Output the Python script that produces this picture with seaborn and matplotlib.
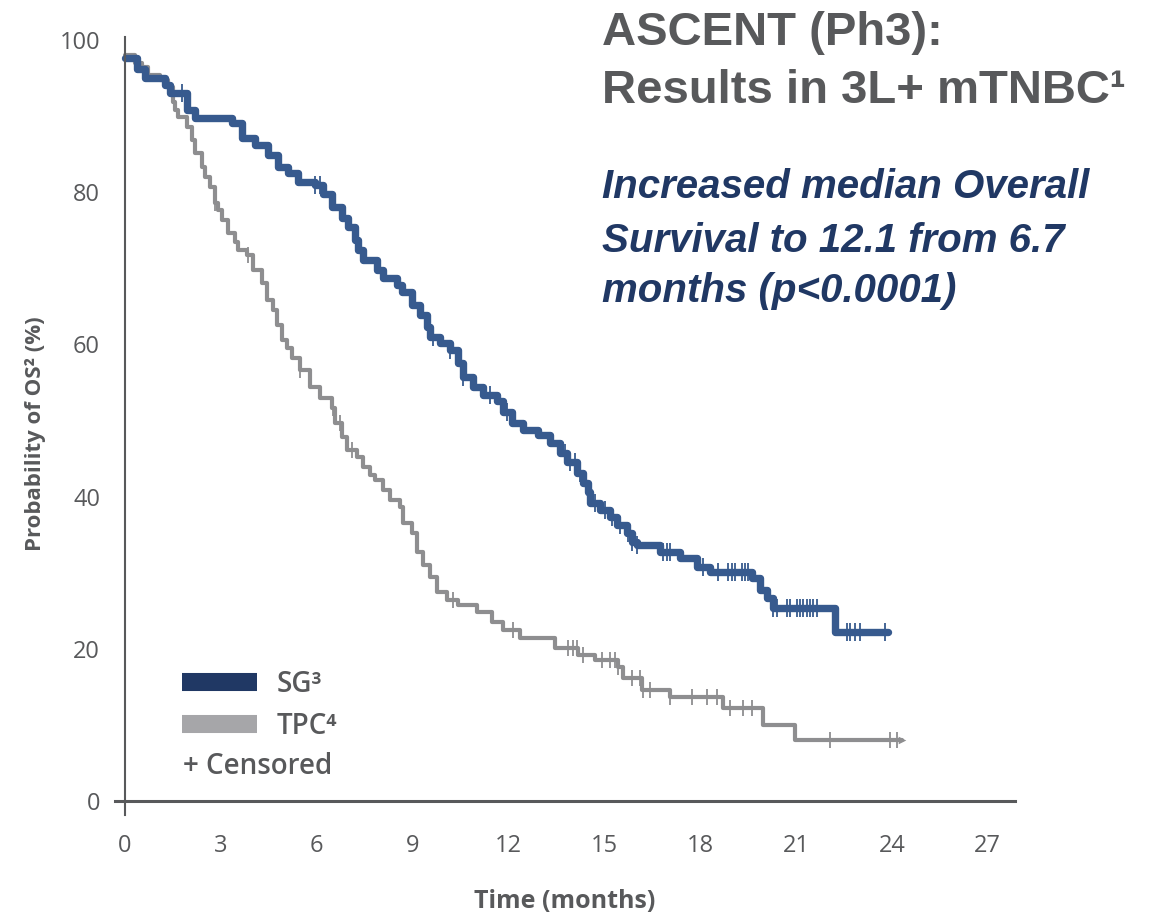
import matplotlib
matplotlib.use("Agg")
import matplotlib.pyplot as plt
import seaborn as sns
import numpy as np
from matplotlib.lines import Line2D

# SG arm: Kaplan-Meier steps (months, % surviving)
sg_time = [0, 0.38, 0.63, 1.25, 1.41, 1.94, 2.19, 3.35, 3.66, 4.07, 4.47, 4.79,
           5.10, 5.41, 5.94, 6.20, 6.48, 6.79, 6.98, 7.20, 7.29, 7.45, 7.88, 8.07,
           8.51, 8.67, 8.98, 9.23, 9.45, 9.54, 9.86, 10.17, 10.42, 10.58, 10.89,
           11.20, 11.64, 11.83, 12.11, 12.45, 12.92, 13.30, 13.61, 13.83, 14.14,
           14.33, 14.49, 14.55, 14.86, 15.18, 15.39, 15.71, 15.86, 16.02, 16.74,
           17.37, 17.90, 18.30, 19.62, 19.87, 20.09, 20.28, 22.22]
sg_surv = [97.6, 96.2, 95.0, 94.1, 93.0, 90.8, 89.8, 89.1, 87.1, 86.2, 84.9, 83.3,
           82.5, 81.3, 80.9, 79.8, 78.1, 76.6, 75.4, 73.7, 72.4, 71.1, 69.8, 68.7,
           67.8, 66.9, 65.2, 63.9, 62.3, 61.0, 60.2, 59.3, 57.6, 55.7, 54.4,
           53.4, 52.5, 51.1, 49.7, 48.8, 48.1, 47.0, 45.7, 44.5, 43.1,
           41.8, 40.6, 39.2, 38.2, 37.3, 36.3, 35.2, 34.0, 33.6, 32.7,
           31.9, 30.7, 30.1, 29.3, 27.7, 26.7, 25.4, 22.2]
sg_end = 23.87
sg_censor = [1.78, 5.94, 6.10, 9.64, 10.17, 10.58, 11.42, 11.95, 13.77, 13.92,
             14.08, 14.24, 14.71, 15.02, 15.24, 15.49, 15.74, 15.86, 16.02, 16.83,
             16.96, 17.05, 18.09, 18.55, 18.87, 18.99, 19.09, 19.31, 19.40, 19.49,
             20.28, 20.40, 20.71, 20.81, 21.03, 21.12, 21.21, 21.34, 21.43, 21.53,
             21.65, 22.59, 22.68, 22.84, 22.99, 23.78]

# TPC arm
tpc_time = [0, 0.31, 0.53, 0.72, 1.10, 1.35, 1.50, 1.56, 1.66, 1.94, 2.10, 2.19,
            2.41, 2.50, 2.66, 2.82, 2.91, 3.04, 3.22, 3.44, 3.54, 3.82, 4.01, 4.29,
            4.44, 4.63, 4.76, 4.91, 5.07, 5.23, 5.48, 5.79, 6.10, 6.48, 6.57, 6.79,
            6.95, 7.26, 7.45, 7.67, 7.82, 8.07, 8.29, 8.60, 8.70, 8.98, 9.14, 9.32,
            9.54, 9.76, 10.08, 10.42, 11.01, 11.48, 11.83, 12.36, 13.45, 14.17,
            14.71, 15.43, 15.58, 16.18, 17.05, 18.71, 19.96, 20.96]
tpc_surv = [98.0, 97.0, 96.5, 95.4, 94.7, 93.8, 91.9, 90.8, 89.9, 88.6, 86.9, 85.2,
            83.3, 82.0, 80.7, 78.6, 77.7, 76.3, 74.6, 73.5, 72.4, 71.7, 69.8, 68.1,
            65.8, 64.5, 62.5, 60.6, 59.5, 58.2, 56.6, 54.4, 52.9, 51.6, 49.7, 47.8,
            46.1, 45.2, 43.9, 42.8, 42.2, 40.9, 39.6, 38.6, 36.5, 35.2, 32.7, 31.0,
            29.4, 27.5, 26.4, 25.8, 24.8, 23.5, 22.5, 21.4, 20.1, 19.2,
            18.5, 17.6, 16.2, 14.6, 13.7, 12.2, 10.0, 8.0]
tpc_end = 24.31
tpc_censor = [2.82, 3.85, 5.48, 6.51, 6.73, 7.10, 10.26, 12.14, 13.86, 14.02, 14.14,
              14.33, 14.92, 15.18, 15.33, 15.43, 15.86, 16.11, 16.21, 16.43, 17.05,
              17.74, 18.21, 18.52, 18.93, 19.34, 19.62, 22.06, 23.94, 24.16]

x_ticks = [0, 3, 6, 9, 12, 15, 18, 21, 24, 27]
y_ticks = [0, 20, 40, 60, 80, 100]

SG_LINE = "#375a8e"
SG_DARK = "#203864"
TPC_LINE = "#8e8e90"
TPC_LEG = "#a6a6a9"
TEXT_GRAY = "#58595b"


def step_value(times, surv, t):
    idx = np.searchsorted(times, t, side="right") - 1
    return np.asarray(surv)[idx]


sns.set_style("white")
plt.rcParams["font.family"] = ["Open Sans", "DejaVu Sans"]

fig = plt.figure(figsize=(11.59, 9.16), dpi=100)
ax = fig.add_axes([0.0996, 0.1106, 0.7761, 0.849])

# curves
for times, surv, end, cens, col, lw, ms in [
        (tpc_time, tpc_surv, tpc_end, tpc_censor, TPC_LINE, 3.0, 120),
        (sg_time, sg_surv, sg_end, sg_censor, SG_LINE, 5.3, 180)]:
    xs = list(times) + [end]
    ys = list(surv) + [surv[-1]]
    sns.lineplot(x=xs, y=ys, drawstyle="steps-post", color=col, linewidth=lw,
                 estimator=None, sort=False, ax=ax)
    sns.scatterplot(x=cens, y=step_value(times, surv, cens), marker="|", s=ms,
                    linewidth=1.3, color=col, ax=ax, zorder=3)
    sns.scatterplot(x=[end], y=[surv[-1]], marker=">", s=30, color=col,
                    linewidth=0, ax=ax, zorder=3)

ax.set_xlim(-0.3, 27.85)
ax.set_ylim(-1.8, 100.4)
ax.set_xticks(x_ticks)
ax.set_yticks(y_ticks)

for side in ["top", "right"]:
    ax.spines[side].set_visible(False)
ax.spines["left"].set_position(("data", 0))
ax.spines["bottom"].set_position(("data", 0))
ax.spines["left"].set_color(TEXT_GRAY)
ax.spines["bottom"].set_color(TEXT_GRAY)
ax.spines["left"].set_linewidth(1.5)
ax.spines["bottom"].set_linewidth(2.2)
ax.tick_params(axis="x", length=0, pad=24, labelsize=17, labelcolor=TEXT_GRAY)
ax.tick_params(axis="y", length=0, pad=18, labelsize=17, labelcolor=TEXT_GRAY)

ax.set_xlabel("Time (months)", fontsize=18, fontweight="bold", color=TEXT_GRAY)
ax.set_ylabel("Probability of OS² (%)", fontsize=16, fontweight="bold",
              color=TEXT_GRAY)
ax.xaxis.set_label_coords(0.5, -0.095)
ax.yaxis.set_label_coords(-0.077, 0.49)

# legend
handles = [Line2D([0], [0], color=SG_DARK, lw=13, solid_capstyle="butt"),
           Line2D([0], [0], color=TPC_LEG, lw=13, solid_capstyle="butt")]
leg = fig.legend(handles, ["SG³", "TPC⁴"], loc="upper left",
                 bbox_to_anchor=(182 / 1159, 1 - 670 / 916), frameon=False,
                 handlelength=2.7, handletextpad=0.72,
                 labelspacing=0.45, borderpad=0, borderaxespad=0,
                 prop={"weight": "semibold", "size": 20})
for t in leg.get_texts():
    t.set_color(TEXT_GRAY)
fig.text(183 / 1159, 1 - 767 / 916, "+ Censored", fontsize=20, fontweight="semibold",
         color=TEXT_GRAY, va="center", ha="left")

# headline text
title_font = ["Liberation Sans", "DejaVu Sans"]
fig.text(602 / 1159, 1 - 45 / 916, "ASCENT (Ph3):", family=title_font, fontsize=34,
         fontweight="bold", color=TEXT_GRAY, va="baseline")
fig.text(602 / 1159, 1 - 103 / 916, "Results in 3L+ mTNBC¹", family=title_font,
         fontsize=34, fontweight="bold", color=TEXT_GRAY, va="baseline")
for i, line in enumerate(["Increased median Overall", "Survival to 12.1 from 6.7",
                          "months (p<0.0001)"]):
    fig.text(602 / 1159, 1 - [198, 252, 302][i] / 916, line, family=title_font,
             fontsize=29, fontweight="bold", style="italic", color=SG_DARK,
             va="baseline")

fig.savefig("out.png", dpi=100)
